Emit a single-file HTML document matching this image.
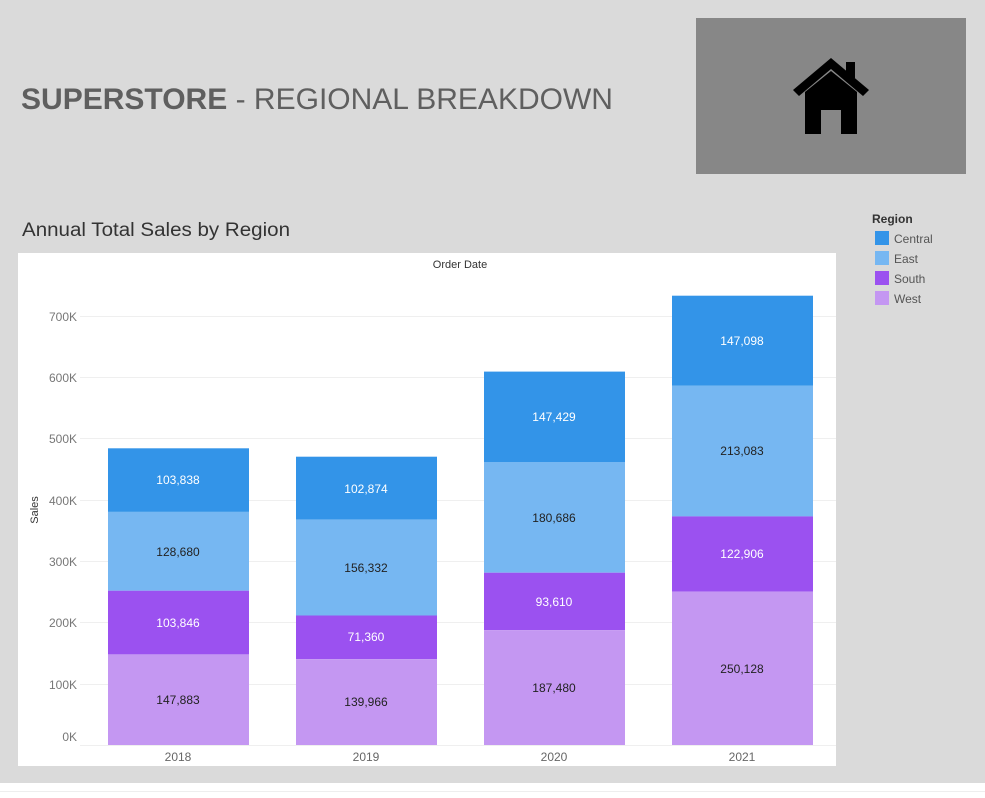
<!DOCTYPE html>
<html><head><style>
body{margin:0;width:985px;height:793px;background:#fff;font-family:"Liberation Sans",sans-serif;overflow:hidden}
</style></head><body>
<svg width="985" height="793" xmlns="http://www.w3.org/2000/svg" font-family="Liberation Sans, sans-serif">
<rect x="0" y="0" width="985" height="783" fill="#dadada"/>
<line x1="0" y1="791.5" x2="985" y2="791.5" stroke="#eeeeee"/>
<text x="21" y="109" font-size="30" fill="#5f5f5f" textLength="592" lengthAdjust="spacingAndGlyphs"><tspan font-weight="bold">SUPERSTORE</tspan> - REGIONAL BREAKDOWN</text>
<rect x="696" y="18" width="270" height="156" fill="#878787"/>
<g fill="#000">
<polygon points="831,58 793,90 799,96 831,69 863,96 869,90"/>
<rect x="846" y="62" width="9" height="16"/>
<path d="M805,92 L831,71 L857,92 L857,134 L841,134 L841,110 L821,110 L821,134 L805,134 Z"/>
</g>
<text x="22" y="236" font-size="19" fill="#333" textLength="268" lengthAdjust="spacingAndGlyphs">Annual Total Sales by Region</text>
<text x="872" y="223" font-size="12" font-weight="bold" fill="#333">Region</text>
<rect x="875" y="231" width="14" height="14" fill="#3394e8"/><text x="894" y="243" font-size="12" fill="#555">Central</text>
<rect x="875" y="251" width="14" height="14" fill="#76b7f2"/><text x="894" y="263" font-size="12" fill="#555">East</text>
<rect x="875" y="271" width="14" height="14" fill="#9b51f0"/><text x="894" y="283" font-size="12" fill="#555">South</text>
<rect x="875" y="291" width="14" height="14" fill="#c497f2"/><text x="894" y="303" font-size="12" fill="#555">West</text>
<rect x="18" y="253" width="818" height="513" fill="#fff"/>
<text x="460" y="268" font-size="11" fill="#333" text-anchor="middle">Order Date</text>
<text x="38" y="510" font-size="11" fill="#333" text-anchor="middle" transform="rotate(-90 38 510)">Sales</text>
<g stroke="#efefef">
<line x1="80" y1="316.5" x2="836" y2="316.5"/><line x1="80" y1="377.5" x2="836" y2="377.5"/>
<line x1="80" y1="438.5" x2="836" y2="438.5"/><line x1="80" y1="500.5" x2="836" y2="500.5"/>
<line x1="80" y1="561.5" x2="836" y2="561.5"/><line x1="80" y1="622.5" x2="836" y2="622.5"/>
<line x1="80" y1="684.5" x2="836" y2="684.5"/><line x1="80" y1="745.5" x2="836" y2="745.5"/>
</g>
<g font-size="12" fill="#777" text-anchor="end">
<text x="77" y="321">700K</text><text x="77" y="382">600K</text><text x="77" y="443">500K</text>
<text x="77" y="505">400K</text><text x="77" y="566">300K</text><text x="77" y="627">200K</text>
<text x="77" y="689">100K</text><text x="77" y="741">0K</text>
</g>
<g font-size="12" fill="#666" text-anchor="middle">
<text x="178" y="761">2018</text><text x="366" y="761">2019</text><text x="554" y="761">2020</text><text x="742" y="761">2021</text>
</g>
<g>
<rect x="108" y="448.3" width="141" height="63.6" fill="#3394e8"/>
<rect x="108" y="511.9" width="141" height="78.8" fill="#76b7f2"/>
<rect x="108" y="590.7" width="141" height="63.7" fill="#9b51f0"/>
<rect x="108" y="654.4" width="141" height="90.6" fill="#c497f2"/>
<rect x="296" y="456.7" width="141" height="63" fill="#3394e8"/>
<rect x="296" y="519.7" width="141" height="95.8" fill="#76b7f2"/>
<rect x="296" y="615.5" width="141" height="43.7" fill="#9b51f0"/>
<rect x="296" y="659.2" width="141" height="85.8" fill="#c497f2"/>
<rect x="484" y="371.6" width="141" height="90.4" fill="#3394e8"/>
<rect x="484" y="462" width="141" height="110.7" fill="#76b7f2"/>
<rect x="484" y="572.7" width="141" height="57.4" fill="#9b51f0"/>
<rect x="484" y="630.1" width="141" height="114.9" fill="#c497f2"/>
<rect x="672" y="295.7" width="141" height="90.1" fill="#3394e8"/>
<rect x="672" y="385.8" width="141" height="130.6" fill="#76b7f2"/>
<rect x="672" y="516.4" width="141" height="75.3" fill="#9b51f0"/>
<rect x="672" y="591.7" width="141" height="153.3" fill="#c497f2"/>
</g>
<g font-size="12" text-anchor="middle">
<text x="178" y="484" fill="#fff">103,838</text><text x="178" y="556" fill="#222">128,680</text>
<text x="178" y="627" fill="#fff">103,846</text><text x="178" y="704" fill="#222">147,883</text>
<text x="366" y="493" fill="#fff">102,874</text><text x="366" y="572" fill="#222">156,332</text>
<text x="366" y="641" fill="#fff">71,360</text><text x="366" y="706" fill="#222">139,966</text>
<text x="554" y="421" fill="#fff">147,429</text><text x="554" y="522" fill="#222">180,686</text>
<text x="554" y="606" fill="#fff">93,610</text><text x="554" y="692" fill="#222">187,480</text>
<text x="742" y="345" fill="#fff">147,098</text><text x="742" y="455" fill="#222">213,083</text>
<text x="742" y="558" fill="#fff">122,906</text><text x="742" y="673" fill="#222">250,128</text>
</g>
</svg>
</body></html>
